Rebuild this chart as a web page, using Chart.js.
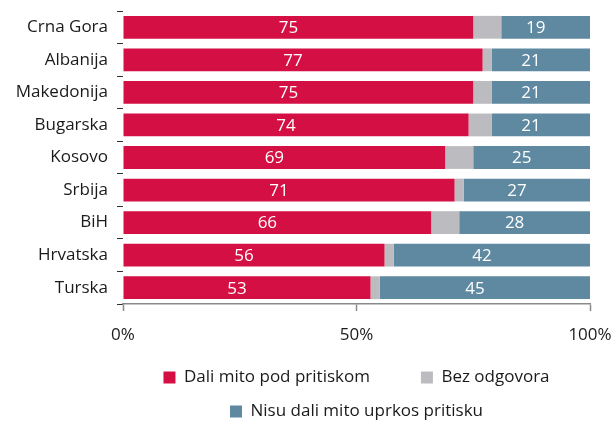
<!DOCTYPE html>
<html>
<head>
<meta charset="utf-8">
<script src="https://cdn.jsdelivr.net/npm/chart.js@4/dist/chart.umd.min.js"></script>
<style>
    html, body { margin: 0; padding: 0; background: #fff; }
    #wrap { width: 613px; height: 422px; }
</style>
</head>
<body>
<div id="wrap"><canvas id="mito-chart" width="613" height="422"></canvas></div>
<script>
const drzave = ['Crna Gora', 'Albanija', 'Makedonija', 'Bugarska', 'Kosovo', 'Srbija', 'BiH', 'Hrvatska', 'Turska'];
const daliMito = [75, 77, 75, 74, 69, 71, 66, 56, 53];
const bezOdgovora = [6, 2, 4, 5, 6, 2, 6, 2, 2];
const nisuDali = [19, 21, 21, 21, 25, 27, 28, 42, 45];
const seriesNames = ['Dali mito pod pritiskom', 'Bez odgovora', 'Nisu dali mito uprkos pritisku'];
const xTicks = [0, 50, 100];

const COLORS = ['#d40f44', '#bcbcc0', '#5e89a1'];
const AXIS_GREY = '#8a8a8a';

Chart.defaults.font.family = "'Open Sans', 'Noto Sans', sans-serif";
Chart.defaults.font.size = 17;
Chart.defaults.color = '#1a1a1a';

// white numbers inside the red and blue segments
const valueLabels = {
    id: 'valueLabels',
    afterDatasetsDraw(chart) {
        const ctx = chart.ctx;
        ctx.save();
        ctx.fillStyle = '#ffffff';
        ctx.font = "17px 'Open Sans', sans-serif";
        ctx.textAlign = 'center';
        ctx.textBaseline = 'middle';
        [0, 2].forEach(di => {
            const meta = chart.getDatasetMeta(di);
            meta.data.forEach((bar, i) => {
                const c = bar.getCenterPoint();
                ctx.fillText(chart.data.datasets[di].data[i], c.x - 10, c.y + 1);
            });
        });
        ctx.restore();
    }
};

const datasets = [daliMito, bezOdgovora, nisuDali].map((values, i) => ({
    label: seriesNames[i],
    data: values,
    backgroundColor: COLORS[i],
    borderWidth: 0,
    barPercentage: 0.7,
    categoryPercentage: 1
}));

new Chart(document.getElementById('mito-chart'), {
    type: 'bar',
    data: { labels: drzave, datasets: datasets },
    plugins: [valueLabels],
    options: {
        indexAxis: 'y',
        responsive: false,
        animation: false,
        layout: { padding: { top: 11, right: 23, left: 0, bottom: 0 } },
        scales: {
            x: {
                stacked: true,
                min: 0,
                max: 100,
                afterBuildTicks: scale => { scale.ticks = xTicks.map(v => ({ value: v })); },
                afterFit: scale => { scale.height = 48; scale.paddingRight = 0; scale.paddingLeft = 0; },
                border: { display: true, color: AXIS_GREY, width: 1.5 },
                grid: {
                    drawOnChartArea: false,
                    drawTicks: true,
                    tickLength: 7,
                    tickColor: AXIS_GREY,
                    tickWidth: 1.5
                },
                ticks: {
                    padding: 14,
                    color: '#1a1a1a',
                    maxRotation: 0,
                    callback: value => value + '%'
                }
            },
            y: {
                stacked: true,
                afterFit: scale => { scale.width = 123; scale.paddingTop = 0; scale.paddingBottom = 0; },
                border: { display: false },
                grid: {
                    drawOnChartArea: false,
                    drawTicks: true,
                    tickLength: 6,
                    tickColor: '#333333',
                    tickWidth: 1
                },
                ticks: { padding: 9, color: '#1a1a1a' }
            }
        },
        plugins: {
            legend: {
                position: 'bottom',
                fullSize: false,
                maxHeight: 70,
                labels: {
                    boxWidth: 12,
                    boxHeight: 12,
                    padding: 17,
                    color: '#1a1a1a',
                    // wider gap after the first item, like the original
                    generateLabels: chart => {
                        const items = Chart.defaults.plugins.legend.labels.generateLabels(chart);
                        items[0].text = items[0].text + '\u2002\u2002\u2002\u2002';
                        return items;
                    }
                }
            },
            tooltip: { enabled: false }
        }
    }
});
</script>
</body>
</html>
